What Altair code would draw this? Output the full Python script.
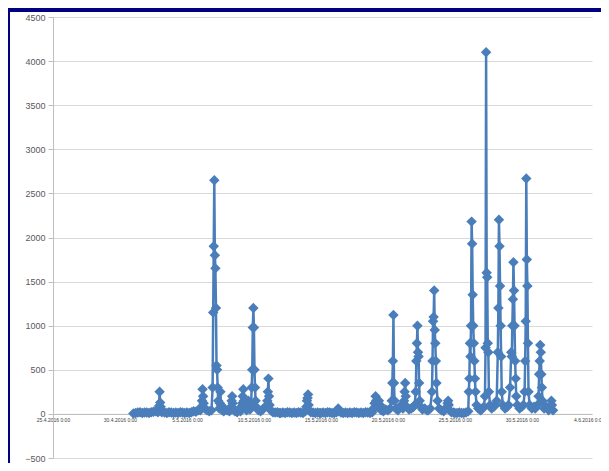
import altair as alt
import pandas as pd

# hour offsets from 2016-05-01 00:00 and the measured values
day_hours = [
    [0, 4, 8, 12, 16, 20],
    [0, 4, 8, 12, 16, 20, 21, 22, 23],
    [0, 1, 2, 3, 8, 12, 16, 20],
    [0, 4, 8, 12, 16, 20],
    [0, 4, 8, 12, 16, 20],
    [0, 2, 3, 4, 5, 6, 8, 12, 16, 20, 22, 23],
    [0, 1, 2, 3, 4, 5, 6, 7, 8, 10, 11, 12, 13, 15, 18, 21],
    [0, 4, 7, 8, 9, 10, 11, 14, 18, 22],
    [0, 2, 3, 4, 5, 6, 8, 11, 13, 14, 15, 17, 19, 20, 21, 22, 23],
    [0, 1, 2, 3, 4, 8, 12, 16, 20],
    [0, 1, 2, 3, 4, 6, 10, 14, 18, 22],
    [0, 4, 8, 12, 16, 20],
    [0, 4, 8, 12, 16, 20, 22, 23],
    [0, 1, 2, 3, 6, 10, 14, 18, 22],
    [0, 4, 8, 12, 16, 20],
    [0, 4, 6, 7, 8, 12, 16, 20],
    [0, 4, 8, 12, 16, 20],
    [0, 4, 8, 12, 16, 20, 22],
    [0, 2, 3, 5, 8, 10, 12, 16, 20],
    [0, 4, 7, 8, 9, 10, 11, 12, 14, 18, 22],
    [0, 3, 5, 6, 7, 8, 10, 14, 18, 22],
    [0, 2, 3, 4, 5, 6, 7, 8, 9, 11, 14, 18, 22],
    [0, 4, 7, 8, 9, 10, 11, 12, 13, 14, 15, 17, 20],
    [0, 4, 10, 11, 12, 13, 15, 18, 22],
    [0, 4, 8, 12, 16, 20],
    [0, 1, 2, 3, 4, 5, 6, 7, 8, 9, 10, 11, 12, 13, 15, 18, 22],
    [0, 4, 6, 7, 8, 9, 10, 11, 12, 13, 15, 18, 22],
    [0, 3, 5, 6, 7, 8, 9, 10, 11, 12, 14, 18, 22],
    [0, 3, 5, 6, 7, 8, 9, 10, 11, 12, 13, 14, 16, 20],
    [0, 3, 5, 6, 7, 8, 9, 10, 11, 12, 14, 18, 22],
    [0, 4, 6, 7, 8, 9, 10, 11, 12, 13, 16, 20],
    [0, 3, 5, 6, 8],
]
day_values = [
    [5, 10, 15, 20, 10, 15],
    [15, 10, 20, 25, 30, 20, 40, 90, 250],
    [130, 80, 40, 20, 15, 10, 20, 15],
    [10, 15, 10, 20, 15, 10],
    [15, 10, 20, 30, 25, 40],
    [40, 80, 150, 280, 200, 120, 60, 40, 30, 40, 300, 1150],
    [1900, 2650, 1800, 1650, 1200, 550, 500, 300, 150, 60, 120, 250, 100, 40, 30, 50],
    [40, 30, 80, 150, 200, 120, 60, 30, 20, 60],
    [30, 60, 120, 200, 280, 150, 60, 40, 100, 150, 90, 50, 120, 300, 500, 980, 1200],
    [980, 500, 300, 150, 80, 40, 30, 50, 80],
    [150, 250, 400, 200, 100, 40, 20, 15, 20, 10],
    [10, 15, 10, 20, 15, 10],
    [15, 10, 20, 15, 10, 30, 80, 150],
    [180, 220, 100, 40, 20, 15, 10, 15, 10],
    [10, 15, 10, 20, 15, 10],
    [10, 20, 40, 60, 30, 15, 10, 15],
    [10, 15, 10, 20, 15, 10],
    [15, 10, 20, 15, 10, 20, 60],
    [120, 200, 150, 80, 150, 100, 40, 30, 50],
    [40, 60, 150, 350, 600, 1120, 350, 150, 60, 40, 80],
    [100, 60, 150, 250, 350, 200, 80, 50, 60, 80],
    [100, 250, 600, 800, 1000, 700, 650, 350, 150, 80, 50, 60, 40],
    [40, 60, 250, 600, 1050, 1100, 1400, 950, 800, 600, 350, 150, 60],
    [40, 30, 80, 120, 150, 100, 40, 20, 15],
    [10, 10, 15, 10, 10, 15],
    [30, 250, 400, 800, 650, 1000, 2180, 1930, 1350, 1000, 800, 600, 400, 250, 100, 60, 40],
    [50, 80, 200, 750, 4100, 1600, 1550, 800, 700, 250, 100, 60, 80],
    [100, 150, 700, 1200, 2200, 1900, 1450, 1000, 650, 250, 100, 60, 80],
    [100, 300, 700, 650, 1000, 1300, 1720, 1400, 1000, 600, 400, 200, 100, 60],
    [80, 100, 250, 600, 1050, 2670, 1750, 1450, 800, 250, 100, 60, 80],
    [60, 100, 200, 450, 600, 780, 700, 450, 300, 150, 60, 80],
    [40, 80, 150, 100, 40],
]

tick_dates = ["2016-04-25", "2016-04-30", "2016-05-05", "2016-05-10", "2016-05-15",
              "2016-05-20", "2016-05-25", "2016-05-30", "2016-06-04"]
y_ticks = [-500, 0, 500, 1000, 1500, 2000, 2500, 3000, 3500, 4000, 4500]

rows = []
start = pd.Timestamp("2016-05-01 00:00")
for d, (hs, vs) in enumerate(zip(day_hours, day_values)):
    for h, v in zip(hs, vs):
        rows.append({"t": (start + pd.Timedelta(hours=d * 24 + h)).strftime("%Y-%m-%dT%H:%M:%S"), "v": v})
df = pd.DataFrame(rows)

tick_vals = [alt.DateTime(year=int(s[:4]), month=int(s[5:7]), date=int(s[8:10])) for s in tick_dates]

BLUE = "#4A7EBB"
NAVY = "#000080"
PLOT_H = 441

line = alt.Chart(df).mark_line(
    color=BLUE, strokeWidth=2.5,
    point=alt.OverlayMarkDef(shape="diamond", size=110, filled=True, color=BLUE, opacity=1),
).encode(
    x=alt.X("t:T",
            scale=alt.Scale(domain=[alt.DateTime(year=2016, month=4, date=25),
                                    alt.DateTime(year=2016, month=6, date=4, hours=5, minutes=45)]),
            axis=alt.Axis(title=None, values=tick_vals, format="%-d.%-m.%Y %-H:%M",
                          labelFontSize=5, labelColor="#404040", labelFont="Liberation Sans",
                          grid=False, ticks=False, domainColor="#BFBFBF", domainWidth=1,
                          offset=-PLOT_H / 10, labelPadding=4, labelFlush=False, labelOverlap=False,
                          labelAngle=0)),
    y=alt.Y("v:Q",
            scale=alt.Scale(domain=[-500, 4500], nice=False, zero=False),
            axis=alt.Axis(title=None, values=y_ticks, format="d", labelFontSize=9,
                          labelColor="#595959",
                          labelFont="Liberation Sans", gridColor="#D9D9D9", gridWidth=1,
                          domainColor="#BFBFBF", tickColor="#BFBFBF", tickSize=5,
                          labelPadding=3, labelFlush=False)),
)

frame = alt.Data(values=[{"k": 1}])
left_strip = alt.Chart(frame).mark_rect(color=NAVY).encode(
    x=alt.value(-45), x2=alt.value(-43), y=alt.value(-9), y2=alt.value(PLOT_H + 6))
top_strip = alt.Chart(frame).mark_rect(color=NAVY).encode(
    x=alt.value(-45), x2=alt.value(548), y=alt.value(-9), y2=alt.value(-5))

chart = alt.layer(left_strip, top_strip, line).properties(
    width=539, height=PLOT_H,
    autosize=alt.AutoSizeParams(type="none"),
    padding={"left": 45, "top": 9, "right": 9, "bottom": 5},
    background="white",
).configure_view(stroke=None)

chart.save("out.html", embed_options={"renderer": "svg", "actions": False})
